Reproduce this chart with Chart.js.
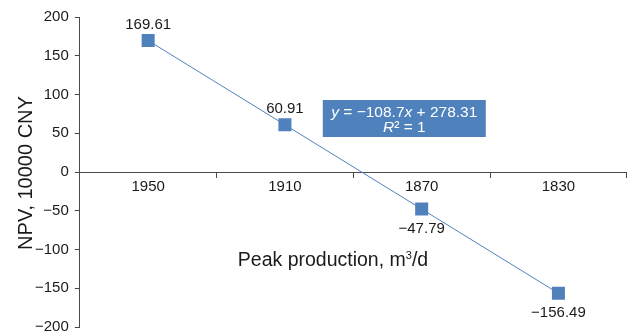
<!DOCTYPE html>
<html>
<head>
<meta charset="utf-8">
<script src="https://cdn.jsdelivr.net/npm/chart.js@4/dist/chart.umd.min.js"></script>
<style>
  html, body { margin: 0; padding: 0; background: #fff; overflow: hidden; }
  /* a bit larger than the window so the plot area reaches the edges like the original */
  #wrap { width: 636px; height: 342px; position: relative; }
</style>
</head>
<body>
<div id="wrap"><canvas id="chart"></canvas></div>
<script>
const categories = ["1950", "1910", "1870", "1830"];
const npvValues = [169.61, 60.91, -47.79, -156.49];
const labelSides = ["above", "above", "below", "below"];

const blue = "#4F81BD";
const axisColor = "#4a4a4a";
const textColor = "#1a1a1a";
const font = "Liberation Sans, Arial, sans-serif";

const minus = v => String(v).replace("-", "\u2212");

const annotations = {
  id: "annotations",
  afterDatasetsDraw(chart) {
    const ctx = chart.ctx;
    const meta = chart.getDatasetMeta(0);
    const area = chart.chartArea;
    ctx.save();

    // data labels
    ctx.font = "15px " + font;
    ctx.fillStyle = textColor;
    ctx.textAlign = "center";
    ctx.textBaseline = "middle";
    meta.data.forEach((pt, i) => {
      const dy = labelSides[i] === "above" ? -15.5 : 19.5;
      ctx.fillText(minus(npvValues[i].toFixed(2)), pt.x, pt.y + dy);
    });

    // trendline equation box
    const bx = area.left + 243, by = area.top + 83, bw = 163, bh = 37;
    ctx.fillStyle = blue;
    ctx.fillRect(bx, by, bw, bh);
    ctx.fillStyle = "#ffffff";
    const cx = bx + bw / 2;
    drawParts(ctx, [["y", true], [" = \u2212108.7", false], ["x", true], [" + 278.31", false]], cx, by + 13);
    drawParts(ctx, [["R", true], ["\u00b2 = 1", false]], cx, by + 28);

    // x axis title, drawn inside the plot like the original
    ctx.fillStyle = textColor;
    ctx.textAlign = "left";
    ctx.textBaseline = "middle";
    const tx = area.left + 158, ty = area.top + 244;
    ctx.font = "19.5px " + font;
    ctx.fillText("Peak production, m", tx, ty);
    const w = ctx.measureText("Peak production, m").width;
    ctx.font = "11px " + font;
    ctx.fillText("3", tx + w, ty - 5);
    const w3 = ctx.measureText("3").width;
    ctx.font = "19.5px " + font;
    ctx.fillText("/d", tx + w + w3, ty);

    // y axis title
    ctx.translate(26, (area.top + area.bottom) / 2 + 1);
    ctx.rotate(-Math.PI / 2);
    ctx.textAlign = "center";
    ctx.font = "20px " + font;
    ctx.fillText("NPV, 10000 CNY", 0, 0);

    ctx.restore();
  }
};

function drawParts(ctx, parts, cx, y) {
  let total = 0;
  const widths = parts.map(([t, it]) => {
    ctx.font = (it ? "italic " : "") + "15.5px " + font;
    const w = ctx.measureText(t).width;
    total += w;
    return w;
  });
  let x = cx - total / 2;
  ctx.textAlign = "left";
  ctx.textBaseline = "middle";
  parts.forEach(([t, it], i) => {
    ctx.font = (it ? "italic " : "") + "15.5px " + font;
    ctx.fillText(t, x, y);
    x += widths[i];
  });
}

new Chart(document.getElementById("chart"), {
  type: "line",
  data: {
    labels: categories,
    datasets: [{
      data: npvValues,
      borderColor: blue,
      borderWidth: 1,
      backgroundColor: blue,
      pointStyle: "rect",
      pointRadius: 9.2,
      pointHoverRadius: 9.2,
      pointBorderWidth: 0,
      tension: 0
    }]
  },
  options: {
    responsive: true,
    maintainAspectRatio: false,
    animation: false,
    layout: { padding: { top: 17, right: 1, bottom: 6, left: 29 } },
    plugins: { legend: { display: false }, tooltip: { enabled: false } },
    scales: {
      x: {
        type: "category",
        offset: true,
        position: { y: 0 },
        grid: {
          offset: true,
          drawOnChartArea: false,
          drawTicks: true,
          tickLength: 5,
          color: axisColor
        },
        border: { color: axisColor, width: 1 },
        ticks: { color: textColor, font: { family: font, size: 15 }, padding: 1, maxRotation: 0 }
      },
      y: {
        min: -200,
        max: 200,
        grid: {
          drawOnChartArea: false,
          drawTicks: true,
          tickLength: 5,
          color: axisColor
        },
        border: { color: axisColor, width: 1 },
        ticks: {
          stepSize: 50,
          color: textColor,
          font: { family: font, size: 15 },
          padding: 6,
          callback: v => minus(v)
        }
      }
    }
  },
  plugins: [annotations]
});
</script>
</body>
</html>
